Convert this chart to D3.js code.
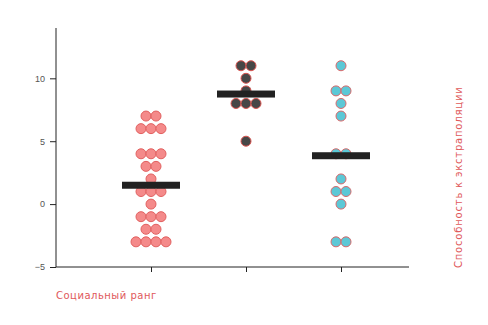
<!DOCTYPE html>
<html>
<head>
<meta charset="utf-8">
<script src="https://cdn.jsdelivr.net/npm/d3@7"></script>
<style>
  body { margin: 0; background: #fff; }
  svg { display: block; font-family: "DejaVu Sans", sans-serif; }
</style>
</head>
<body>
<svg id="chart" width="488" height="325"></svg>
<script>
// categories (no visible tick labels on the x axis)
var categories = ["A", "B", "C"];

// values per group
var groupA = [7, 7, 6, 6, 6, 4, 4, 4, 3, 3, 2, 1, 1, 1, 0, -1, -1, -1, -2, -2, -3, -3, -3, -3];
var groupB = [11, 11, 10, 9, 8, 8, 8, 5];
var groupC = [11, 9, 9, 8, 7, 4, 4, 2, 1, 1, 0, -3, -3];

var yTicks = [-5, 0, 5, 10];
var xLabel = "Социальный ранг";
var yLabel = "Способность к экстраполяции";

var groups = [
    { key: categories[0], values: groupA, fill: "#f48a8a", stroke: "#e2605f" },
    { key: categories[1], values: groupB, fill: "#474747", stroke: "#d9534f" },
    { key: categories[2], values: groupC, fill: "#5cc8d6", stroke: "#d9686a" }
];

var svg = d3.select("#chart");
var plotLeft = 56, plotRight = 409, plotTop = 28, plotBottom = 267;

var x = d3.scalePoint()
    .domain(categories)
    .range([151, 341]);

var y = d3.scaleLinear()
    .domain([-5, 14])
    .range([plotBottom, plotTop]);

var r = 5;

// y axis
var yAxis = svg.append("g")
    .attr("transform", "translate(" + plotLeft + ",0)")
    .call(d3.axisLeft(y).tickValues(yTicks).tickSize(6).tickPadding(5));
yAxis.select(".domain").attr("d", "M0," + plotTop + "V" + plotBottom).attr("stroke", "#222");
yAxis.selectAll(".tick line").attr("stroke", "#222");
yAxis.selectAll(".tick text")
    .attr("fill", "#555")
    .style("font-size", "9px");

// x axis
var xAxis = svg.append("g")
    .attr("transform", "translate(0," + plotBottom + ")")
    .call(d3.axisBottom(x).tickSize(5).tickFormat(""));
xAxis.select(".domain").attr("d", "M" + plotLeft + ",0H" + plotRight).attr("stroke", "#222");
xAxis.selectAll(".tick line").attr("stroke", "#222");

// points, stacked side by side where values repeat
groups.forEach(function(g) {
    var counts = d3.rollup(g.values, function(v) { return v.length; }, function(d) { return d; });
    var seen = new Map();
    var pts = g.values.map(function(v) {
        var n = counts.get(v);
        var i = seen.get(v) || 0;
        seen.set(v, i + 1);
        return { v: v, off: (i - (n - 1) / 2) * r * 2 };
    });

    svg.append("g").selectAll("circle")
        .data(pts)
        .enter().append("circle")
        .attr("cx", function(d) { return x(g.key) + d.off; })
        .attr("cy", function(d) { return y(d.v); })
        .attr("r", r)
        .attr("fill", g.fill)
        .attr("stroke", g.stroke)
        .attr("stroke-width", 1);

    var mean = d3.mean(g.values);
    svg.append("rect")
        .attr("x", x(g.key) - 29)
        .attr("y", y(mean) - 3.5)
        .attr("width", 58)
        .attr("height", 7)
        .attr("fill", "#222");
});

// axis titles
svg.append("text")
    .attr("x", plotLeft)
    .attr("y", 299)
    .attr("fill", "#e0585a")
    .style("font-size", "10px")
    .style("letter-spacing", "0.5px")
    .text(xLabel);

svg.append("text")
    .attr("transform", "translate(462," + (plotBottom + 1) + ") rotate(-90)")
    .attr("fill", "#e0585a")
    .style("font-size", "10px")
    .style("letter-spacing", "0.8px")
    .text(yLabel);
</script>
</body>
</html>
